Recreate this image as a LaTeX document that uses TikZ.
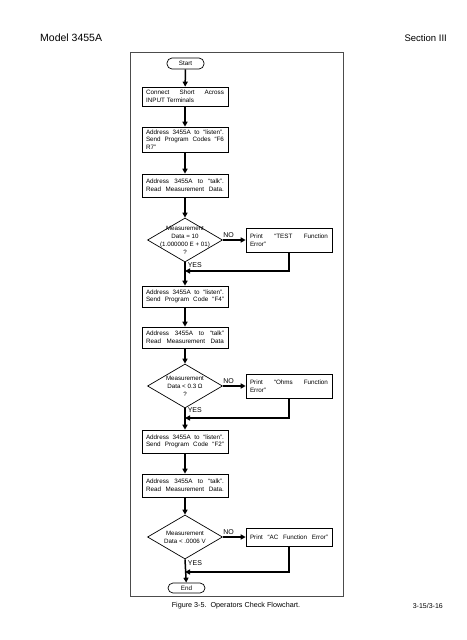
\documentclass[tikz,border=0pt]{standalone}
\usepackage{fontspec}
\setmainfont{Liberation Sans}
\usetikzlibrary{arrows.meta,shapes.geometric}
\newcommand{\spreadline}[1]{\noindent\hbox to\hsize{\spaceskip=0.28em plus 10em\relax #1}}
\begin{document}
\begin{tikzpicture}[x=1pt,y=-1pt,
  txt/.style={font=\fontsize{6.3}{7.6}\selectfont},
  box/.style={draw, line width=0.6pt, text width=78pt, inner xsep=4pt, inner ysep=0pt, txt, anchor=center},
  term/.style={draw, line width=0.7pt, rounded corners=5pt, minimum width=37pt, inner sep=0pt, txt, anchor=center},
  diam/.style={diamond, draw, line width=0.7pt, minimum width=75pt, minimum height=44pt, inner sep=0pt},
  dtext/.style={font=\fontsize{6.2}{8}\selectfont, align=center, inner sep=0pt},
  lab/.style={font=\fontsize{7}{8}\selectfont, inner sep=0pt},
  flow/.style={line width=1.5pt, -{Triangle[width=5pt,length=5pt]}},
  head/.style={font=\fontsize{9.5}{11}\selectfont, inner sep=0pt}
]
\useasboundingbox (0,0) rectangle (466,640);
\hyphenpenalty=10000

% header and footer
\node[head, anchor=west, font=\fontsize{10.5}{12}\selectfont] (hl) at (40,38) {Model 3455A};
\node[head, anchor=east] (hr) at (447,38) {Section III};
\node[head, anchor=center, font=\fontsize{7.2}{9}\selectfont] (cap) at (236,606) {Figure 3-5.\ \ Operators Check Flowchart.};
\node[head, anchor=east, font=\fontsize{7}{9}\selectfont] (pg) at (443,606) {3-15/3-16};

% frame
\draw[line width=0.6pt, black!70] (130,52) rectangle (343,596);

% nodes
\node[term, minimum height=11pt] (start) at (185.5,63.5) {Start};
\node[box, minimum height=19pt] (b1) at (185,96.5) {\spreadline{Connect Short Across}\\INPUT Terminals};
\node[box, minimum height=25pt] (b2) at (185,139.5) {\spreadline{Address 3455A to ``listen''.}\\\spreadline{Send Program Codes ``F6}\\R7''};
\node[box, minimum height=23pt] (b3) at (185,185.5) {\spreadline{Address 3455A to ``talk''.}\\\spreadline{Read Measurement Data.}};
\node[diam, label={[dtext]center:Measurement\\Data = 10\\(1.000000 E + 01)\\?}] (d1) at (185,240) {};
\node[box, minimum height=24pt] (p1) at (289,240) {\spreadline{Print ``TEST Function}\\Error''};
\coordinate (j1) at (185,271);

\node[box, minimum height=21pt] (b4) at (185,296.5) {\spreadline{Address 3455A to ``listen''.}\\\spreadline{Send Program Code ``F4''}};
\node[box, minimum height=21pt] (b5) at (185,337.5) {\spreadline{Address 3455A to ``talk''}\\\spreadline{Read Measurement Data}};
\node[diam, label={[dtext]center:Measurement\\Data < 0.3 Ω\\?}] (d2) at (185,386) {};
\node[box, minimum height=24pt] (p2) at (289,386) {\spreadline{Print ``Ohms Function}\\Error''};
\coordinate (j2) at (185,418);

\node[box, minimum height=23pt] (b6) at (185,441.5) {\spreadline{Address 3455A to ``listen''.}\\\spreadline{Send Program Code ``F2''}};
\node[box, minimum height=23pt] (b7) at (185,485.5) {\spreadline{Address 3455A to ``talk''.}\\\spreadline{Read Measurement Data.}};
\node[diam, label={[dtext]center:Measurement\\Data < .0006 V}] (d3) at (185,537) {};
\node[box, minimum height=18pt] (p3) at (289,537) {\spreadline{Print ``AC Function Error''}};
\coordinate (j3) at (185,572);
\node[term, minimum height=10pt] (end) at (186.5,588) {End};

% connectors
\draw[flow] (start) -- (b1);
\draw[flow] (b1) -- (b2);
\draw[flow] (b2) -- (b3);
\draw[flow] (b3) -- (d1);
\draw[flow] (d1.east) -- (p1.west) node[lab, pos=0.25, above=1.5pt] {NO};
\draw[flow] (d1.south) -- (b4) node[lab, pos=0.1, right=2pt] {YES};
\draw[flow] (p1.south) |- (j1);

\draw[flow] (b4) -- (b5);
\draw[flow] (b5) -- (d2);
\draw[flow] (d2.east) -- (p2.west) node[lab, pos=0.25, above=1.5pt] {NO};
\draw[flow] (d2.south) -- (b6) node[lab, pos=0.1, right=2pt] {YES};
\draw[flow] (p2.south) |- (j2);

\draw[flow] (b6) -- (b7);
\draw[flow] (b7) -- (d3);
\draw[flow] (d3.east) -- (p3.west) node[lab, pos=0.25, above=1.5pt] {NO};
\draw[flow] (d3.south) -- (end) node[lab, pos=0.15, right=2pt] {YES};
\draw[flow] (p3.south) |- (j3);
\end{tikzpicture}
\end{document}
